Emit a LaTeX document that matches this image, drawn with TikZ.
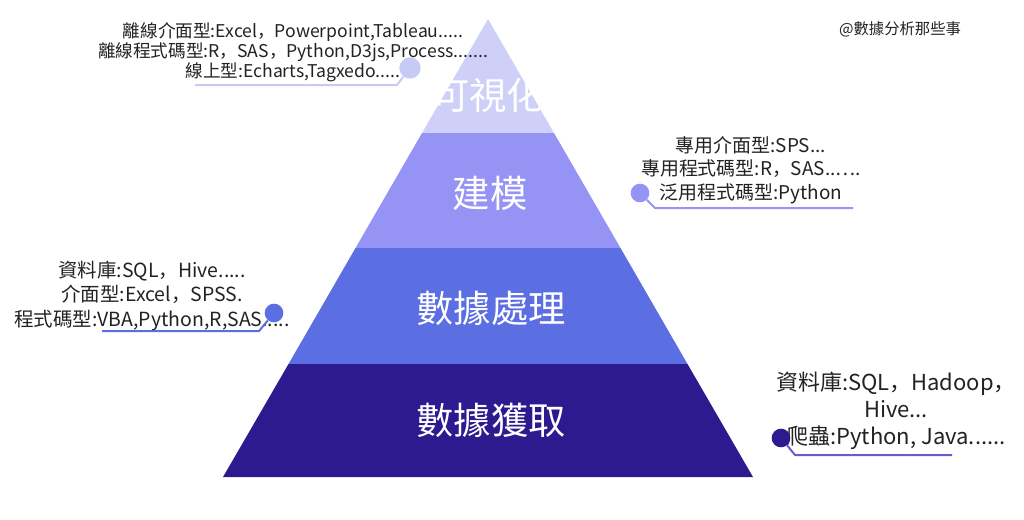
\documentclass[tikz,border=0pt]{standalone}
\usepackage{fontspec}
\setmainfont{Noto Sans CJK SC}
\usetikzlibrary{positioning}

\definecolor{layerA}{HTML}{CFD0F8}
\definecolor{layerB}{HTML}{9593F3}
\definecolor{layerC}{HTML}{5C6FE2}
\definecolor{layerD}{HTML}{2E1A8F}
\definecolor{dotA}{HTML}{C8CAF6}
\definecolor{lineD}{HTML}{6B5BD0}
\definecolor{txt}{HTML}{222222}

\begin{document}
\begin{tikzpicture}[
    x=0.75pt, y=-0.75pt,
    layer/.style={draw=none},
    title/.style={text=white, inner sep=0pt, font=\fontsize{28pt}{30pt}\selectfont},
    note/.style={text=txt, align=center, inner sep=0pt},
    dot/.style={circle, minimum size=14pt, inner sep=0pt},
    link/.style={line width=1.5pt},
]
    \useasboundingbox (0,0) rectangle (1024,519);

    % --- Pyramid layers (top to bottom) ---
    \fill[layer, layerA] (488,19)  -- (554,133) -- (422,133) -- cycle;
    \fill[layer, layerB] (422,133) -- (554,133) -- (620.5,248) -- (355.5,248) -- cycle;
    \fill[layer, layerC] (355.5,248) -- (620.5,248) -- (687.5,364) -- (288.5,364) -- cycle;
    \fill[layer, layerD] (288.5,364) -- (687.5,364) -- (753,477) -- (223,477) -- cycle;

    % --- Layer titles ---
    \node[title] (Vis)   at (488,95)  {可視化};
    \node[title] (Model) at (490,193) {建模};
    \node[title] (Proc)  at (491,308) {數據處理};
    \node[title] (Get)   at (491,420) {數據獲取};

    % --- Note A (top left): visualisation tools ---
    \node[note, font=\fontsize{13.2pt}{15pt}\selectfont] (NoteA) at (293,52)
        {離線介面型:Excel，Powerpoint,Tableau.....\\
         離線程式碼型:R，SAS，Python,D3js,Process.......\\
         線上型:Echarts,Tagxedo.....};
    \node[dot, fill=dotA, minimum size=16pt] (DotA) at (410,68) {};
    \coordinate (BendA) at (397,85);
    \coordinate (EndA)  at (195,85);
    \draw[link, dotA] (DotA) -- (BendA) -- (EndA);

    % --- Note B (right): modelling tools ---
    \node[note, font=\fontsize{14.2pt}{17.5pt}\selectfont] (NoteB) at (751,170)
        {專用介面型:SPS...\\
         專用程式碼型:R，SAS..….\\
         泛用程式碼型:Python};
    \node[dot, fill=layerB] (DotB) at (640,193) {};
    \coordinate (BendB) at (655,208);
    \coordinate (EndB)  at (853,208);
    \draw[link, layerB] (DotB) -- (BendB) -- (EndB);

    % --- Note C (left): processing tools ---
    \node[note, font=\fontsize{14.6pt}{18.4pt}\selectfont] (NoteC) at (152,296)
        {資料庫:SQL，Hive.....\\
         介面型:Excel，SPSS.\\
         程式碼型:VBA,Python,R,SAS.....};
    \node[dot, fill=layerC] (DotC) at (274,313) {};
    \coordinate (BendC) at (259,331);
    \coordinate (EndC)  at (102,331);
    \draw[link, layerC] (DotC) -- (BendC) -- (EndC);

    % --- Note D (bottom right): acquisition tools ---
    \node[note, font=\fontsize{16.5pt}{20.3pt}\selectfont] (NoteD) at (896,411)
        {資料庫:SQL，Hadoop，\\
         Hive...\\
         爬蟲:Python, Java......};
    \node[dot, fill=layerD] (DotD) at (781,438) {};
    \coordinate (BendD) at (795,455);
    \coordinate (EndD)  at (952,455);
    \draw[link, lineD] (DotD) -- (BendD) -- (EndD);

    % --- Watermark ---
    \node[note, font=\fontsize{11.5pt}{13pt}\selectfont] (Mark) at (900,29) {@數據分析那些事};

\end{tikzpicture}
\end{document}
